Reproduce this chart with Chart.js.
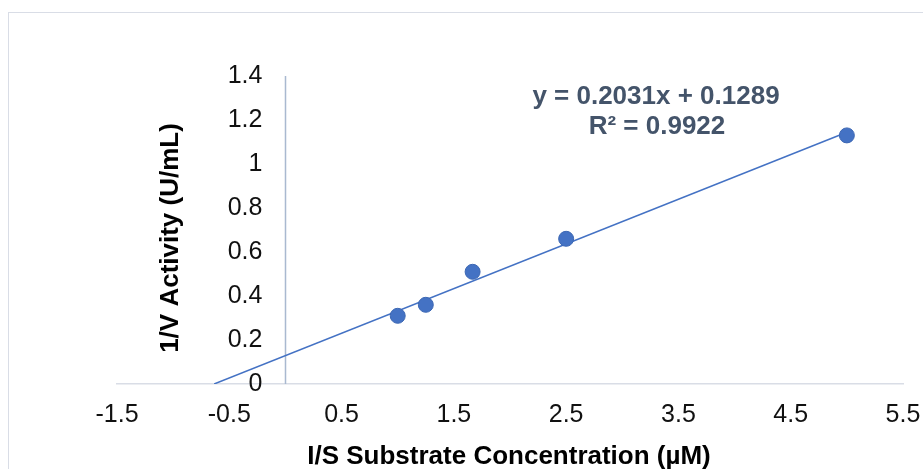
<!DOCTYPE html>
<html>
<head>
<meta charset="utf-8">
<script src="https://cdn.jsdelivr.net/npm/chart.js@4/dist/chart.umd.min.js"></script>
<style>
  html, body { margin: 0; padding: 0; background: #fff; overflow: hidden; }
  #frame { position: absolute; left: 8px; top: 12px; width: 1000px; height: 600px; border: 1px solid #d9dde6; }
  #wrap { position: absolute; left: 0; top: 0; width: 923px; height: 469px; }
</style>
</head>
<body>
<div id="frame"></div>
<div id="wrap"><canvas id="chart"></canvas></div>
<script>
// ---- data (Lineweaver-Burk plot) ----
const substrateInv = [1, 1.25, 1.667, 2.5, 5];
const activityInv = [0.31, 0.36, 0.51, 0.66, 1.13];
// linear trendline endpoints, y = 0.2031x + 0.1289
const trendX = [-0.635, 5];
const trendY = [0, 1.1444];
const xTicks = [-1.5, -0.5, 0.5, 1.5, 2.5, 3.5, 4.5, 5.5];
const yTicks = [0, 0.2, 0.4, 0.6, 0.8, 1, 1.2, 1.4];
const equationLines = ['y = 0.2031x + 0.1289', 'R² = 0.9922'];

const BLUE = '#4472c4';
const FONT = '"Liberation Sans", Arial, sans-serif';

// vertical axis line at x = 0 (labels sit a little left of it)
const zeroLinePlugin = {
  id: 'zeroLine',
  beforeDatasetsDraw(chart) {
    const { ctx, scales: { x, y } } = chart;
    const px = Math.round(x.getPixelForValue(0)) + 0.5;
    ctx.save();
    ctx.strokeStyle = '#a9b9d0';
    ctx.lineWidth = 1.5;
    ctx.beginPath();
    ctx.moveTo(px, y.getPixelForValue(1.4));
    ctx.lineTo(px, y.getPixelForValue(0));
    ctx.stroke();
    ctx.restore();
  }
};

// titles + trendline label
const labelsPlugin = {
  id: 'labels',
  afterDraw(chart) {
    const c = chart.ctx;
    c.save();
    c.textAlign = 'center';
    c.textBaseline = 'middle';
    c.font = 'bold 26px ' + FONT;
    c.fillStyle = '#44546a';
    c.fillText(equationLines[0], 656, 97);
    c.fillText(equationLines[1], 657, 127);

    c.fillStyle = '#000';
    c.fillText('I/S Substrate Concentration (µM)', 509, 457);

    c.translate(171, 238);
    c.rotate(-Math.PI / 2);
    c.fillText('1/V Activity (U/mL)', 0, 0);
    c.restore();
  }
};

new Chart(document.getElementById('chart'), {
  type: 'scatter',
  data: {
    datasets: [
      {
        label: 'data',
        data: substrateInv.map((x, i) => ({ x, y: activityInv[i] })),
        backgroundColor: BLUE,
        borderColor: '#3c67b3',
        borderWidth: 1,
        pointRadius: 7.5,
        order: 1,
      },
      {
        type: 'line',
        label: 'trend',
        data: trendX.map((x, i) => ({ x, y: trendY[i] })),
        borderColor: BLUE,
        borderWidth: 1.5,
        pointRadius: 0,
        fill: false,
        order: 2,
      },
    ],
  },
  options: {
    responsive: true,
    maintainAspectRatio: false,
    animation: false,
    layout: { padding: { left: 117, right: 20, top: 76, bottom: 23 } },
    plugins: { legend: { display: false }, tooltip: { enabled: false } },
    scales: {
      x: {
        type: 'linear',
        position: 'bottom',
        min: -1.5,
        max: 5.5,
        afterBuildTicks: s => { s.ticks = xTicks.map(v => ({ value: v })); },
        afterFit: s => { s.paddingLeft = 0; s.paddingRight = 0; s.height = 62; },
        ticks: {
          color: '#111',
          font: { family: FONT, size: 25 },
          padding: 16,
          maxRotation: 0,
          callback: v => String(v),
        },
        grid: { display: false, drawTicks: false },
        border: { display: true, color: '#d9dde6', width: 1.5 },
      },
      y: {
        type: 'linear',
        position: { x: -0.205 },
        min: 0,
        max: 1.4,
        afterBuildTicks: s => { s.ticks = yTicks.map(v => ({ value: v })); },
        afterFit: s => { s.width = 0; s.paddingTop = 0; s.paddingBottom = 0; },
        ticks: {
          color: '#111',
          font: { family: FONT, size: 25 },
          padding: 0,
          callback: v => String(v),
        },
        grid: { display: false, drawTicks: false },
        border: { display: false },
      },
    },
  },
  plugins: [zeroLinePlugin, labelsPlugin],
});
</script>
</body>
</html>
